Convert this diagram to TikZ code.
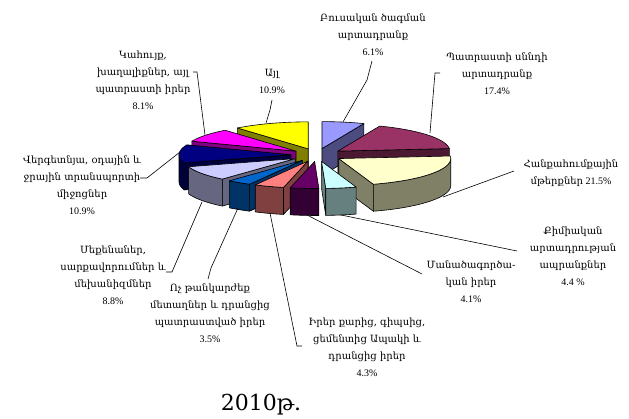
\documentclass[tikz,border=0pt]{standalone}
\usepackage{fontspec}
\setmainfont{Liberation Serif}
\newfontfamily\arm{DejaVu Serif}
\definecolor{cLav}{HTML}{9999FF}
\definecolor{cMar}{HTML}{993366}
\definecolor{cLY}{HTML}{FFFFCC}
\definecolor{cCy}{HTML}{CCFFFF}
\definecolor{cPur}{HTML}{660066}
\definecolor{cSal}{HTML}{FF8080}
\definecolor{cBlu}{HTML}{0066CC}
\definecolor{cLL}{HTML}{CCCCFF}
\definecolor{cNav}{HTML}{000080}
\definecolor{cMag}{HTML}{FF00FF}
\definecolor{cYel}{HTML}{FFFF00}
% #1 start angle, #2 end angle, #3 colour, #4/#5 visible wall range, #6 face at #1, #7 face at #2
\newcommand\PieSlice[7]{%
  \pgfmathsetmacro\mA{(#1+#2)/2}%
  \pgfmathsetmacro\px{317+26*cos(\mA)}%
  \pgfmathsetmacro\py{155-6.5*sin(\mA)}%
  \pgfmathsetmacro\ax{\px+112*cos(#1)}%
  \pgfmathsetmacro\ay{\py-27*sin(#1)}%
  \pgfmathsetmacro\bx{\px+112*cos(#2)}%
  \pgfmathsetmacro\by{\py-27*sin(#2)}%
  \ifnum#6=1
    \filldraw[face, fill=#3!50!black] (\px,\py) -- (\ax,\ay) -- ({\ax},{\ay+27}) -- ({\px},{\py+27}) -- cycle;
  \fi
  \ifnum#7=1
    \filldraw[face, fill=#3!50!black] (\px,\py) -- (\bx,\by) -- ({\bx},{\by+27}) -- ({\px},{\py+27}) -- cycle;
  \fi
  \def\tmpa{#4}\def\tmpb{#5}%
  \ifx\tmpa\tmpb\else
    \filldraw[face, fill=#3!50!black] plot[domain=#4:#5, samples=30] ({\px+112*cos(\x)},{\py-27*sin(\x)})
      -- plot[domain=#5:#4, samples=30] ({\px+112*cos(\x)},{\py-27*sin(\x)+27}) -- cycle;
  \fi
  \filldraw[face, fill=#3] (\px,\py) -- plot[domain=#1:#2, samples=40] ({\px+112*cos(\x)},{\py-27*sin(\x)}) -- cycle;
}
\begin{document}
\begin{tikzpicture}[x=1pt,y=-1pt,
  lbl/.style={align=center, font=\fontsize{10}{17}\selectfont, inner sep=0pt},
  leader/.style={draw=black, line width=0.6pt},
  face/.style={draw=black, line width=0.6pt, line join=round}]
\useasboundingbox (0,0) rectangle (629,419);

% pie slices, back to front
\PieSlice{68.04}{90}{cLav}{0}{0}{1}{0}
\PieSlice{90}{129.24}{cYel}{0}{0}{0}{1}
\PieSlice{5.4}{68.04}{cMar}{0}{0}{1}{0}
\PieSlice{129.24}{158.4}{cMag}{0}{0}{0}{1}
\PieSlice{158.4}{197.64}{cNav}{180}{197.64}{0}{1}
\PieSlice{-72}{5.4}{cLY}{-72}{0}{1}{0}
\PieSlice{-162.36}{-130.68}{cLL}{-162.36}{-130.68}{0}{1}
\PieSlice{-130.68}{-118.08}{cBlu}{-130.68}{-118.08}{0}{1}
\PieSlice{-118.08}{-102.6}{cSal}{-118.08}{-102.6}{0}{1}
\PieSlice{-87.84}{-72}{cCy}{-87.84}{-72}{1}{0}
\PieSlice{-102.6}{-87.84}{cPur}{-102.6}{-87.84}{0}{0}

% labels
\node[lbl] (L1) at (373,35) {{\arm Բուսական ծագման}\\{\arm արտադրանք}\\6.1\%};
\node[lbl] (L2) at (497,74) {{\arm Պատրաստի սննդի}\\{\arm արտադրանք}\\17.4\%};
\node[lbl] (L3) at (571,173.5) {{\arm Հանքահումքային}\\{\arm մթերքներ} 21.5\%};
\node[lbl] (L4) at (573,256) {{\arm Քիմիական}\\{\arm արտադրության}\\{\arm ապրանքներ}\\4.4 \%};
\node[lbl] (L5) at (471,282) {{\arm Մանածագործա-}\\{\arm կան իրեր}\\4.1\%};
\node[lbl] (L6) at (367,347) {{\arm Իրեր քարից, գիպսից,}\\{\arm ցեմենտից Ապակի և}\\{\arm դրանցից իրեր}\\4.3\%};
\node[lbl] (L7) at (210,313) {{\arm Ոչ թանկարժեք}\\{\arm մետաղներ և դրանցից}\\{\arm պատրաստված իրեր}\\3.5\%};
\node[lbl] (L8) at (113,275) {{\arm Մեքենաներ,}\\{\arm սարքավորումներ և}\\{\arm մեխանիզմներ}\\8.8\%};
\node[lbl] (L9) at (82,185) {{\arm Վերգետնյա, օդային և}\\{\arm ջրային տրանսպորտի}\\{\arm միջոցներ}\\10.9\%};
\node[lbl] (L10) at (143,80) {{\arm Կահույք,}\\{\arm խաղալիքներ, այլ}\\{\arm պատրաստի իրեր}\\8.1\%};
\node[lbl] (L11) at (272,81) {{\arm Այլ}\\10.9\%};
\node[font=\arm\fontsize{22}{26}\selectfont, inner sep=0pt] (T) at (261,405) {2010թ.};

% leader lines
\coordinate (a1) at (372,61); \coordinate (k1) at (367,80); \coordinate (s1) at (343,122);
\draw[leader] (a1) -- (k1) -- (s1);
\coordinate (a2) at (440,73); \coordinate (k2) at (435,73); \coordinate (s2) at (430,133);
\draw[leader] (a2) -- (k2) -- (s2);
\coordinate (a3) at (514,171); \coordinate (s3) at (443,197);
\draw[leader] (a3) -- (s3);
\coordinate (a4) at (517,251); \coordinate (s4) at (341,215);
\draw[leader] (a4) -- (s4);
\coordinate (a5) at (422,274); \coordinate (s5) at (307,215);
\draw[leader] (a5) -- (s5);
\coordinate (a6) at (302,346); \coordinate (k6) at (297,346); \coordinate (s6) at (270,213);
\draw[leader] (a6) -- (k6) -- (s6);
\coordinate (a7) at (208,279); \coordinate (k7) at (211,268); \coordinate (s7) at (238,208);
\draw[leader] (a7) -- (k7) -- (s7);
\coordinate (a8) at (166,272); \coordinate (k8) at (172,272); \coordinate (s8) at (202,202);
\draw[leader] (a8) -- (k8) -- (s8);
\coordinate (a9) at (140,178); \coordinate (k9) at (147,178); \coordinate (s9) at (180,152);
\draw[leader] (a9) -- (k9) -- (s9);
\coordinate (a10) at (193,72); \coordinate (k10) at (197,72); \coordinate (s10) at (205,135);
\draw[leader] (a10) -- (k10) -- (s10);
\coordinate (a11) at (272,100); \coordinate (k11) at (270,110); \coordinate (s11) at (266,123);
\draw[leader] (a11) -- (k11) -- (s11);
\end{tikzpicture}
\end{document}
